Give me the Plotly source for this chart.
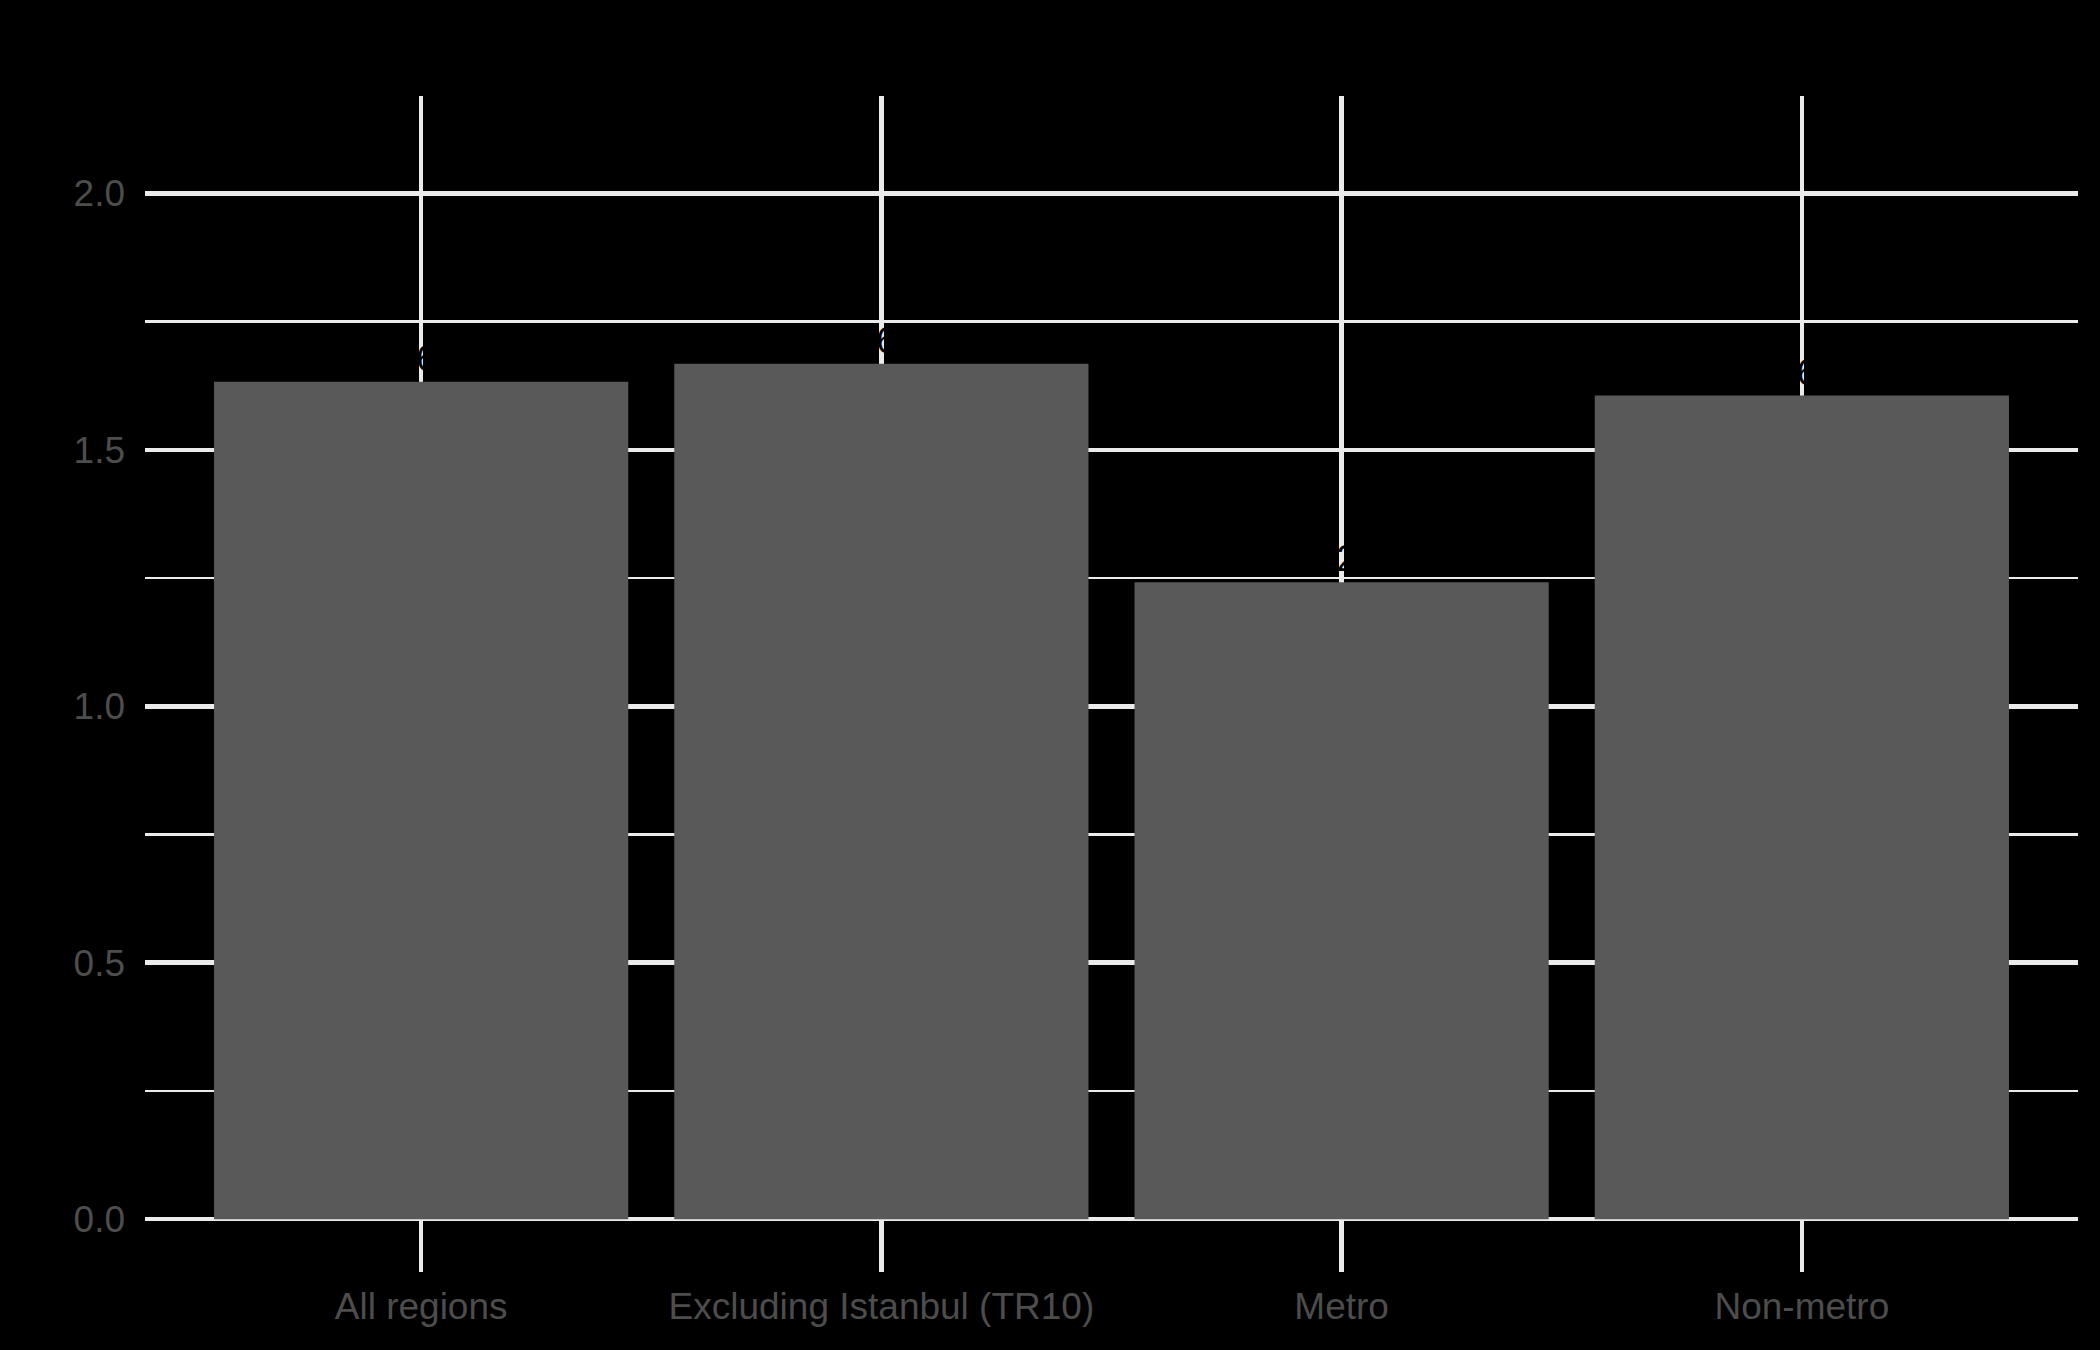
import plotly.graph_objects as go

categories = ["All regions", "Excluding Istanbul (TR10)", "Metro", "Non-metro"]
values = [1.633, 1.668, 1.242, 1.606]
y_ticks = [0.0, 0.5, 1.0, 1.5, 2.0]
y_tick_labels = ["0.0", "0.5", "1.0", "1.5", "2.0"]

fig = go.Figure(
    go.Bar(
        x=categories,
        y=values,
        width=0.9,
        marker=dict(color="#595959", line=dict(width=0)),
        texttemplate="%{y:.2f}",
        textposition="outside",
        textfont=dict(color="#000000", size=36, family="Liberation Sans, Arial, sans-serif"),
        cliponaxis=False,
        hoverinfo="skip",
    )
)

grid = "#ebebeb"
fig.update_layout(
    width=2100,
    height=1350,
    paper_bgcolor="#000000",
    plot_bgcolor="#000000",
    margin=dict(l=145, r=22, t=96, b=78),
    showlegend=False,
    font=dict(family="Liberation Sans, Arial, sans-serif", size=37, color="#4d4d4d"),
    xaxis=dict(
        range=[-0.6, 3.6],
        showgrid=True,
        gridcolor=grid,
        gridwidth=4.5,
        zeroline=False,
        showline=False,
        ticks="",
        tickfont=dict(size=37, color="#4d4d4d"),
        ticklabelstandoff=9,
    ),
    yaxis=dict(
        range=[-0.103, 2.19],
        tickvals=y_ticks,
        ticktext=y_tick_labels,
        showgrid=True,
        gridcolor=grid,
        gridwidth=4.5,
        zeroline=False,
        showline=False,
        ticks="",
        tickfont=dict(size=37, color="#4d4d4d"),
        ticklabelstandoff=19,
        minor=dict(dtick=0.25, tick0=0, showgrid=True, gridcolor=grid, gridwidth=2.5),
    ),
    bargap=0.1,
)

fig.write_html(
    "out.html",
    config={"displayModeBar": False, "staticPlot": True},
    post_script="document.body.style.margin='0';document.body.style.background='#000000';",
)
